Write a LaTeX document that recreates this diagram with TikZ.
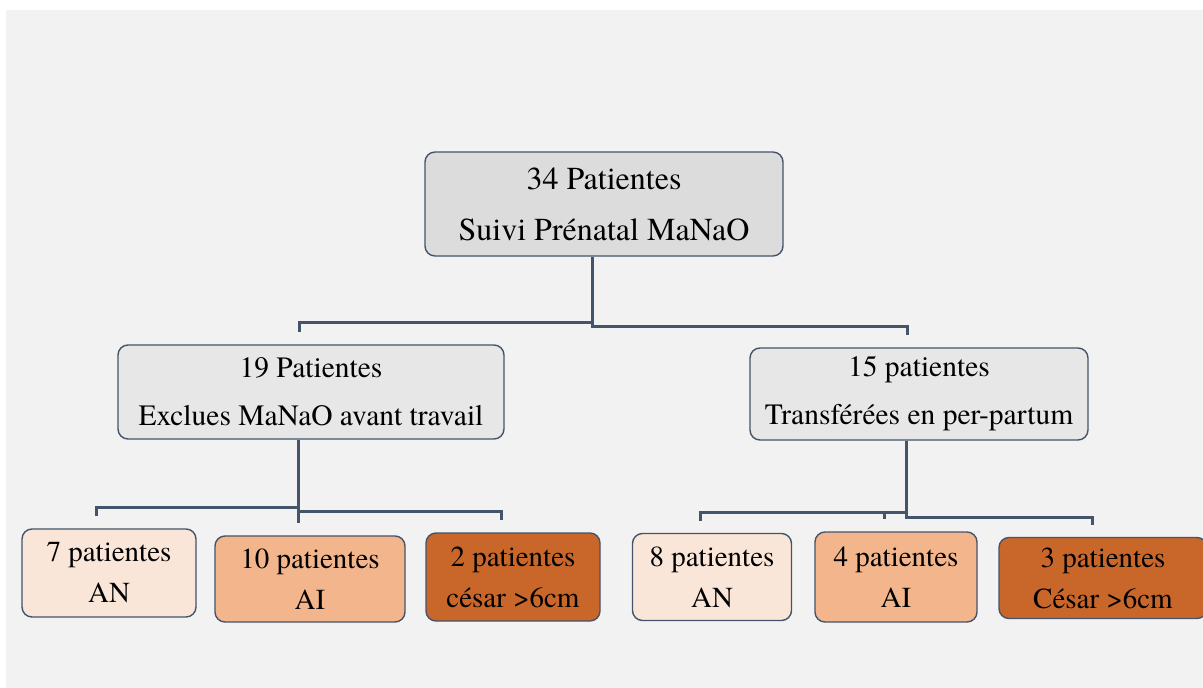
\documentclass[tikz,border=0pt]{standalone}
\usepackage{fontspec}
\setmainfont{texgyretermes}[Extension=.otf,UprightFont=*-regular,BoldFont=*-bold,ItalicFont=*-italic,BoldItalicFont=*-bolditalic]
\definecolor{slate}{HTML}{44546A}
\definecolor{canvas}{HTML}{F2F2F2}
\definecolor{grayhead}{HTML}{DCDCDC}
\definecolor{graymid}{HTML}{E7E7E7}
\definecolor{peachAN}{HTML}{FAE6D9}
\definecolor{peachAI}{HTML}{F3B58C}
\definecolor{rustCS}{HTML}{C9672A}
\begin{document}
\begin{tikzpicture}[x=1pt,y=-1pt,
	box/.style={draw=slate,line width=1.4pt,rounded corners=10pt,align=center,inner sep=0pt,text=black},
	head/.style={box,fill=grayhead,font=\fontsize{32}{51}\selectfont},
	mid/.style={box,fill=graymid,font=\fontsize{29.5}{48}\selectfont},
	leaf/.style={box,font=\fontsize{29}{41}\selectfont},
	link/.style={draw=slate,line width=3pt,shorten >=12pt}]
	\useasboundingbox (0,0) rectangle (1203,688);
	\fill[white] (0,0) rectangle (1203,688);
	\fill[canvas] (6,10) rectangle (1203,688);
	\node[head,minimum width=358pt,minimum height=104pt] (top) at (604,204) {34 Patientes\\Suivi Prénatal MaNaO};
	\node[mid,minimum width=386pt,minimum height=94pt] (left) at (311,392) {19 Patientes\\Exclues MaNaO avant travail};
	\node[mid,minimum width=338pt,minimum height=92pt] (right) at (919,394) {15 patientes\\Transférées en per-partum};
	\node[leaf,fill=peachAN,minimum width=174pt,minimum height=88pt] (an1) at (109,573) {7 patientes\\AN};
	\node[leaf,fill=peachAI,minimum width=190pt,minimum height=86pt] (ai1) at (310,579) {10 patientes\\AI};
	\node[leaf,fill=rustCS,minimum width=174pt,minimum height=88pt] (cs1) at (513,577) {2 patientes\\césar >6cm};
	\node[leaf,fill=peachAN,minimum width=159pt,minimum height=87pt] (an2) at (712,577) {8 patientes\\AN};
	\node[leaf,fill=peachAI,minimum width=162pt,minimum height=90pt] (ai2) at (896,577) {4 patientes\\AI};
	\node[leaf,fill=rustCS,minimum width=208pt,minimum height=81pt] (cs2) at (1103,578) {3 patientes\\César >6cm};
	\coordinate (tsp) at (592,0);
	\coordinate (tl) at (299,322);
	\coordinate (tr) at (907,326);
	\coordinate (lsp) at (298,0);
	\coordinate (la) at (96,507);
	\coordinate (lb) at (298,511);
	\coordinate (lc) at (501,511);
	\coordinate (rsp) at (906,0);
	\coordinate (ra) at (700,512);
	\coordinate (rb) at (884,512);
	\coordinate (rc) at (1092,517);
	\foreach \p/\s/\k/\j in {top/tsp/left/tl,top/tsp/right/tr,left/lsp/an1/la,left/lsp/ai1/lb,left/lsp/cs1/lc,right/rsp/an2/ra,right/rsp/ai2/rb,right/rsp/cs2/rc}
		\draw[link] (\p.south -| \s) |- (\j) -- (\k.north -| \j);
\end{tikzpicture}
\end{document}
